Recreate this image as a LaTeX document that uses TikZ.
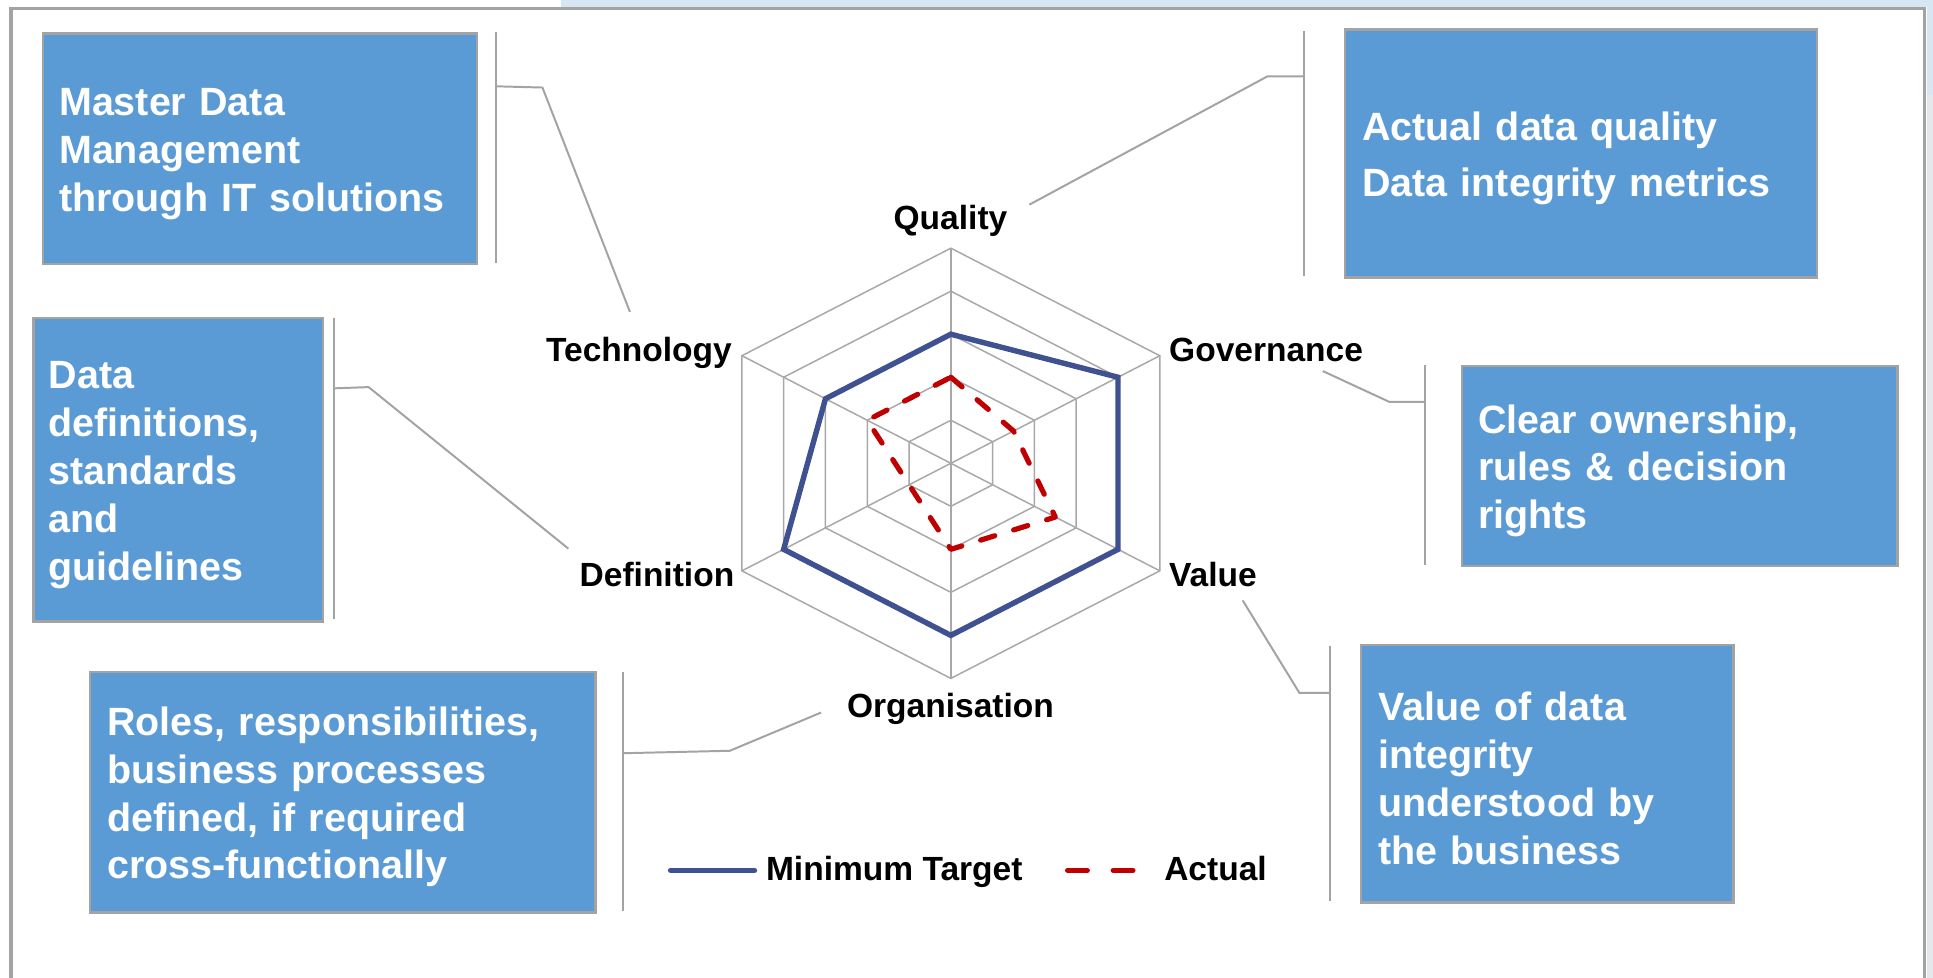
\documentclass[tikz,border=0pt]{standalone}
\usepackage{fontspec}
\setmainfont{Liberation Sans}
\usetikzlibrary{calc}
\definecolor{boxblue}{HTML}{5B9BD5}
\definecolor{framegray}{HTML}{A3A3A3}
\definecolor{gridgray}{HTML}{A8A8A8}
\definecolor{targetblue}{RGB}{63,81,145}
\definecolor{actualred}{HTML}{C00000}
\definecolor{paleblue}{HTML}{D6E7F3}
\definecolor{palegray}{HTML}{E4E8EC}
\newcommand{\boxtextfont}{\fontsize{16}{19.4}\selectfont\bfseries}
\newcommand{\axisfont}{\fontsize{13.6}{16}\selectfont\bfseries}
\newcommand{\topgap}{\rule{0pt}{15.5pt}}
\begin{document}
\begin{tikzpicture}[x=0.5pt,y=-0.5pt,
  infobox/.style={draw=framegray, line width=1pt, fill=boxblue, text=white,
    font=\boxtextfont, align=left, anchor=north west, inner ysep=0pt},
  axislabel/.style={font=\axisfont, text=black, inner sep=0pt},
  callout/.style={draw=framegray, line width=0.8pt},
  grid/.style={draw=gridgray, line width=0.6pt},
  target/.style={draw=targetblue, line width=2.2pt, line join=miter},
  actual/.style={draw=actualred, line width=2.1pt, line cap=round, line join=round,
    dash pattern=on 6pt off 8pt},
  frameline/.style={draw=framegray, line width=1.3pt}]
\useasboundingbox (0,0) rectangle (1568,793);
\fill[white] (0,0) rectangle (1568,793);
% window background strips
\fill[paleblue] (455,0) rectangle (1568,5.5);
\fill[paleblue] (1563,0) rectangle (1568,77);
\fill[palegray] (1563,77) rectangle (1568,793);
\draw[frameline] (9,800) -- (9,7) -- (1561,7) -- (1561,800);

% ---------- radar chart ----------
\coordinate (C) at (771.3,375.8);
\coordinate (vQ) at (771.3,201.3);
\coordinate (vG) at (940.8,288.55);
\coordinate (vV) at (940.8,463.05);
\coordinate (vO) at (771.3,550.3);
\coordinate (vD) at (601.8,463.05);
\coordinate (vT) at (601.8,288.55);
\foreach \f in {0.2,0.4,0.6,0.8,1}
  \draw[grid] ($(C)!\f!(vQ)$) -- ($(C)!\f!(vG)$) -- ($(C)!\f!(vV)$) -- ($(C)!\f!(vO)$) -- ($(C)!\f!(vD)$) -- ($(C)!\f!(vT)$) -- cycle;
\foreach \v in {vQ,vG,vV,vO,vD,vT}
  \draw[grid] (C) -- (\v);
\draw[target] ($(C)!0.6!(vQ)$) -- ($(C)!0.8!(vG)$) -- ($(C)!0.8!(vV)$) -- ($(C)!0.8!(vO)$) -- ($(C)!0.8!(vD)$) -- ($(C)!0.6!(vT)$) -- cycle;
\draw[actual] ($(C)!0.4!(vQ)$) -- ($(C)!0.3!(vG)$) -- ($(C)!0.5!(vV)$) -- ($(C)!0.4!(vO)$) -- ($(C)!0.2!(vD)$) -- ($(C)!0.4!(vT)$) -- cycle;

% axis labels
\node[axislabel, anchor=base] (lq) at (771,186) {Quality};
\node[axislabel, anchor=base east] (lt) at (594,293) {Technology};
\node[axislabel, anchor=base west] (lg) at (948,293) {Governance};
\node[axislabel, anchor=base east] (ld) at (596,476) {Definition};
\node[axislabel, anchor=base west] (lv) at (948,476) {Value};
\node[axislabel, anchor=base] (lo) at (771,582) {Organisation};

% legend
\coordinate (lgb1) at (544,706);
\coordinate (lgb2) at (612,706);
\draw[target, line cap=round] (lgb1) -- (lgb2);
\node[axislabel, anchor=base west] (lmt) at (621,714) {Minimum Target};
\coordinate (lgr1) at (866,706);
\coordinate (lgr2) at (882,706);
\coordinate (lgr3) at (903,706);
\coordinate (lgr4) at (919,706);
\draw[draw=actualred, line width=2.1pt, line cap=round] (lgr1) -- (lgr2);
\draw[draw=actualred, line width=2.1pt, line cap=round] (lgr3) -- (lgr4);
\node[axislabel, anchor=base west] (lac) at (944,714) {Actual};

% ---------- boxes ----------
\node[infobox, inner xsep=6.5pt, text width=163pt, minimum height=93.5pt] (b1) at (34,26)
  {\topgap Master Data\\Management\\through IT solutions};
\node[infobox, inner xsep=6.25pt, text width=105pt, minimum height=123pt] (b2) at (26,257)
  {\topgap Data\\definitions,\\standards\\and\\guidelines};
\node[infobox, inner xsep=7pt, text width=177.5pt, minimum height=100.5pt,
  font=\fontsize{16}{23}\selectfont\bfseries] (b3) at (1090,23)
  {\topgap Actual data quality\\Data integrity metrics};
\node[infobox, inner xsep=6.5pt, text width=163.5pt, minimum height=81pt] (b4) at (1185,296)
  {\topgap Clear ownership,\\rules \& decision\\rights};
\node[infobox, inner xsep=7pt, text width=137pt, minimum height=104.5pt] (b5) at (1103,522)
  {\topgap Value of data\\integrity\\understood by\\the business};
\node[infobox, inner xsep=7pt, text width=191pt, minimum height=97.5pt] (b6) at (72,544)
  {\topgap Roles, responsibilities,\\business processes\\defined, if required\\cross-functionally};

% ---------- callouts ----------
% Technology
\coordinate (k1t) at (402,26); \coordinate (k1b) at (402,213);
\coordinate (k1m) at (402,70); \coordinate (k1e) at (440,71); \coordinate (k1p) at (511,253);
\draw[callout] (k1t) -- (k1b);
\draw[callout] (k1m) -- (k1e) -- (k1p);
% Definition
\coordinate (k2t) at (271,258); \coordinate (k2b) at (271,502);
\coordinate (k2m) at (271,315); \coordinate (k2e) at (299,314); \coordinate (k2p) at (461,445);
\draw[callout] (k2t) -- (k2b);
\draw[callout] (k2m) -- (k2e) -- (k2p);
% Quality
\coordinate (k3t) at (1058,25); \coordinate (k3b) at (1058,224);
\coordinate (k3m) at (1058,62); \coordinate (k3e) at (1028,62); \coordinate (k3p) at (835,166);
\draw[callout] (k3t) -- (k3b);
\draw[callout] (k3m) -- (k3e) -- (k3p);
% Governance
\coordinate (k4t) at (1156,296); \coordinate (k4b) at (1156,458);
\coordinate (k4m) at (1156,326); \coordinate (k4e) at (1127,326); \coordinate (k4p) at (1073,301);
\draw[callout] (k4t) -- (k4b);
\draw[callout] (k4m) -- (k4e) -- (k4p);
% Value
\coordinate (k5t) at (1079,524); \coordinate (k5b) at (1079,731);
\coordinate (k5m) at (1079,562); \coordinate (k5e) at (1054,562); \coordinate (k5p) at (1008,487);
\draw[callout] (k5t) -- (k5b);
\draw[callout] (k5m) -- (k5e) -- (k5p);
% Organisation
\coordinate (k6t) at (505,545); \coordinate (k6b) at (505,739);
\coordinate (k6m) at (505,611); \coordinate (k6e) at (592,609); \coordinate (k6p) at (666,578);
\draw[callout] (k6t) -- (k6b);
\draw[callout] (k6m) -- (k6e) -- (k6p);
\end{tikzpicture}
\end{document}
